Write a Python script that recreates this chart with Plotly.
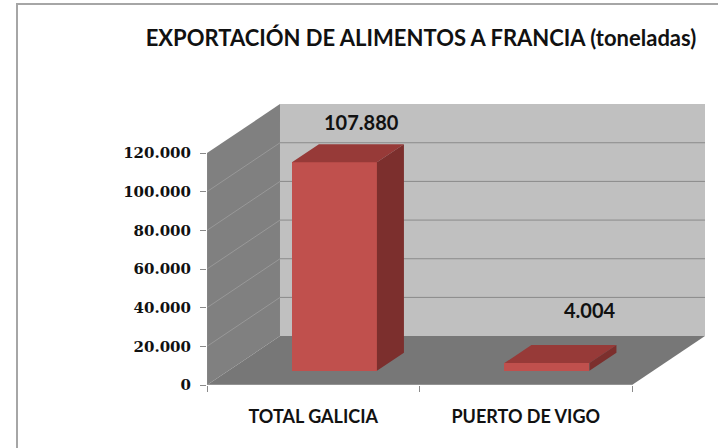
import plotly.graph_objects as go

# datos
categorias = ["TOTAL GALICIA", "PUERTO DE VIGO"]
toneladas = [107880, 4004]
ticks_y = [0, 20000, 40000, 60000, 80000, 100000, 120000]
titulo = "EXPORTACIÓN DE ALIMENTOS A FRANCIA (toneladas)"

# pseudo 3D (estilo Excel)
DX = 0.3435        # profundidad en unidades del eje x
DY = 25300         # profundidad en unidades del eje y
F0, F1 = 0.29, 0.66  # cara frontal / trasera de las barras
ANCHO = 0.4
YMAX_PARED = ticks_y[-1]
N = len(categorias)

W, H = 718, 448
X0PX, UNIT = 207, 212.5
XMAX = (W - X0PX) / UNIT

fig = go.Figure()

# caras frontales
centros = [i + 0.5 for i in range(N)]
fig.add_trace(go.Bar(
    x=[c + F0 * DX for c in centros], y=toneladas, base=[F0 * DY] * N,
    width=ANCHO, marker=dict(color="#c0504d", line=dict(width=0)),
    hoverinfo="skip", showlegend=False))

# caras superior y lateral
tx, ty, sx, sy = [], [], [], []
for c, v in zip(centros, toneladas):
    l, r = c - ANCHO / 2, c + ANCHO / 2
    tx += [l + F0 * DX, r + F0 * DX, r + F1 * DX, l + F1 * DX, l + F0 * DX, None]
    ty += [v + F0 * DY, v + F0 * DY, v + F1 * DY, v + F1 * DY, v + F0 * DY, None]
    sx += [r + F0 * DX, r + F1 * DX, r + F1 * DX, r + F0 * DX, r + F0 * DX, None]
    sy += [F0 * DY, F1 * DY, v + F1 * DY, v + F0 * DY, F0 * DY, None]
fig.add_trace(go.Scatter(x=tx, y=ty, fill="toself", fillcolor="#973a38", mode="lines",
                         line=dict(width=0, color="#973a38"), hoverinfo="skip", showlegend=False))
fig.add_trace(go.Scatter(x=sx, y=sy, fill="toself", fillcolor="#7c2f2d", mode="lines",
                         line=dict(width=0, color="#7c2f2d"), hoverinfo="skip", showlegend=False))

shapes = []
def poly(pts, color):
    path = "M " + " L ".join(f"{x},{y}" for x, y in pts) + " Z"
    shapes.append(dict(type="path", path=path, xref="x", yref="y", layer="below",
                       fillcolor=color, line=dict(width=0)))

# paredes y suelo
poly([(DX, DY), (N + DX, DY), (N + DX, YMAX_PARED + DY), (DX, YMAX_PARED + DY)], "#c0c0c0")
poly([(0, 0), (DX, DY), (DX, YMAX_PARED + DY), (0, YMAX_PARED)], "#808080")
poly([(0, 0), (N, 0), (N + DX, DY), (DX, DY)], "#777777")

for t in ticks_y[1:-1]:
    shapes.append(dict(type="line", xref="x", yref="y", layer="below", x0=DX, x1=N + DX,
                       y0=t + DY, y1=t + DY, line=dict(color="#8a8a8a", width=1)))
    shapes.append(dict(type="line", xref="x", yref="y", layer="below", x0=0, x1=DX,
                       y0=t, y1=t + DY, line=dict(color="#989898", width=1)))

# ejes
shapes.append(dict(type="line", xref="x", yref="y", x0=0, x1=N, y0=0, y1=0,
                   line=dict(color="#b0b0b0", width=1)))
shapes.append(dict(type="line", xref="x", yref="y", x0=0, x1=0, y0=0, y1=YMAX_PARED,
                   line=dict(color="#8a8a8a", width=1)))

# borde del gráfico
shapes.append(dict(type="rect", xref="paper", yref="paper", x0=17 / W, x1=1.02,
                   y0=-0.02, y1=(H - 4) / H, line=dict(color="#a6a6a6", width=2)))

# etiquetas de valor
desp_x = [0, 16]
desp_y = [8, 21]
anotaciones = []
for i, (c, v) in enumerate(zip(centros, toneladas)):
    anotaciones.append(dict(
        x=c + F1 * DX, y=v + F1 * DY, xref="x", yref="y",
        text=f"{v:,}".replace(",", "."), showarrow=False, yanchor="bottom",
        xshift=desp_x[i], yshift=desp_y[i],
        font=dict(family="Lato", size=20, color="#111111", weight=700)))

fig.update_layout(
    width=W, height=H, margin=dict(l=0, r=0, t=0, b=0, autoexpand=False),
    paper_bgcolor="white", plot_bgcolor="rgba(0,0,0,0)",
    separators=",.",
    title=dict(text=titulo, x=421 / W, xanchor="center", y=(H - 38) / H, yanchor="middle",
               font=dict(family="Lato", size=22, color="#111111", weight=700)),
    xaxis=dict(domain=[X0PX / W, 1], range=[0, XMAX], showgrid=False, zeroline=False,
               showline=False, tickvals=centros, ticktext=categorias, ticks="",
               ticklabelstandoff=19, automargin=False,
               tickfont=dict(family="Lato", size=18, color="#111111", weight=700),
               minor=dict(tickvals=list(range(N + 1)), ticks="outside", ticklen=6,
                          tickcolor="#8a8a8a", showgrid=False)),
    yaxis=dict(domain=[(H - 385) / H, (H - 95) / H], range=[0, 150000], showgrid=False,
               zeroline=False, showline=False, tickvals=ticks_y, tickformat=",d",
               ticks="outside", ticklen=6, tickcolor="#8a8a8a", ticklabelstandoff=6,
               automargin=False,
               tickfont=dict(family="DejaVu Serif", size=15, color="#111111", weight=700)),
    shapes=shapes, annotations=anotaciones, bargap=0,
)

fig.write_html("out.html", config={"displayModeBar": False},
               post_script="document.body.style.margin='0';")
